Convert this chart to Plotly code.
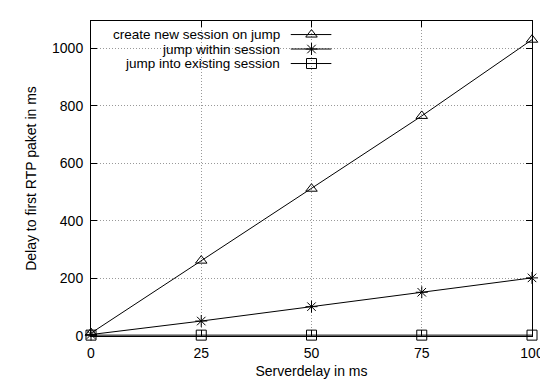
import plotly.graph_objects as go

# ---- data ----
server_delay = [0, 25, 50, 75, 100]
create_new_session = [10, 262, 512, 765, 1030]
jump_within_session = [5, 52, 102, 152, 202]
jump_existing_session = [3, 3, 3, 3, 3]
series_names = ["create new session on jump", "jump within session", "jump into existing session"]
x_ticks = [0, 25, 50, 75, 100]
y_ticks = [0, 200, 400, 600, 800, 1000]

FONT = "Liberation Sans, Arial, Helvetica, sans-serif"
symbols = ["triangle-up-open", "asterisk-open", "square-open"]
series = [create_new_session, jump_within_session, jump_existing_session]

fig = go.Figure()
for name, ys, sym in zip(series_names, series, symbols):
    fig.add_trace(go.Scatter(
        x=server_delay, y=ys, mode="lines+markers", name=name,
        line=dict(color="black", width=1),
        marker=dict(symbol=sym, size=10, color="black", line=dict(color="black", width=1)),
        showlegend=False, cliponaxis=False,
    ))

# ---- custom gnuplot-style key (text right-aligned, sample on the right) ----
key_rows = [0.957, 0.911, 0.865]
key_text_x = 0.432
key_line = [0.453, 0.545]
key_mark = 0.5
for name, sym, ky in zip(series_names, symbols, key_rows):
    fig.add_trace(go.Scatter(
        x=key_line, y=[ky, ky], mode="lines", xaxis="x2", yaxis="y2",
        line=dict(color="black", width=1), showlegend=False, hoverinfo="skip"))
    fig.add_trace(go.Scatter(
        x=[key_mark], y=[ky], mode="markers", xaxis="x2", yaxis="y2",
        marker=dict(symbol=sym, size=10, color="black", line=dict(color="black", width=1)),
        showlegend=False, hoverinfo="skip"))
    fig.add_annotation(xref="paper", yref="paper", x=key_text_x, y=ky, text=name,
                       showarrow=False, xanchor="right", yanchor="middle",
                       font=dict(family=FONT, size=13.5, color="black"))

# white key background hiding the grid
fig.add_shape(type="rect", xref="paper", yref="paper", x0=0.07, x1=0.56, y0=0.835, y1=0.978,
              fillcolor="white", line=dict(width=0), layer="between")

axis_common = dict(
    showline=True, linecolor="black", linewidth=1, mirror="ticks",
    ticks="inside", ticklen=6, tickcolor="black", tickwidth=1,
    showgrid=True, gridcolor="#999999", griddash="1px,2px", gridwidth=1,
    zeroline=False, tickfont=dict(family=FONT, size=14, color="black"),
)

fig.update_layout(
    width=548, height=381,
    margin=dict(l=83, r=14, t=12, b=42),
    paper_bgcolor="white", plot_bgcolor="white",
    font=dict(family=FONT, size=14, color="black"),
    xaxis=dict(range=[0, 100], tickvals=x_ticks, ticklabelstandoff=4,
               title=dict(text="Serverdelay in ms", font=dict(family=FONT, size=14), standoff=6),
               **axis_common),
    yaxis=dict(range=[0, 1095], tickvals=y_ticks, ticklabelstandoff=4,
               title=dict(text="Delay to first RTP paket in ms", font=dict(family=FONT, size=14), standoff=12),
               **axis_common),
    xaxis2=dict(overlaying="x", range=[0, 1], visible=False, fixedrange=True),
    yaxis2=dict(overlaying="y", range=[0, 1], visible=False, fixedrange=True),
    showlegend=False,
)

fig.write_html("out.html")
